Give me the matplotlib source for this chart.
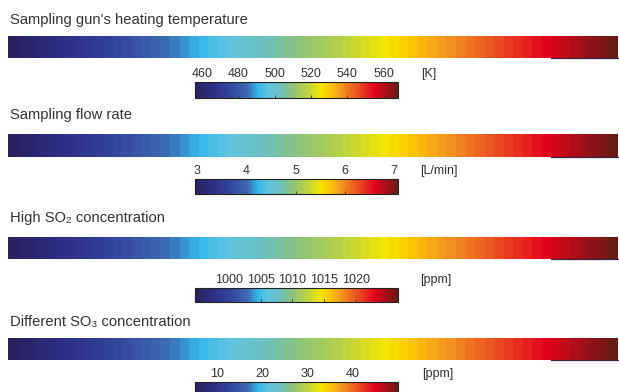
import numpy as np
import matplotlib as mpl
import matplotlib.pyplot as plt
from matplotlib.colors import LinearSegmentedColormap, Normalize

plt.rcParams['font.family'] = ['Liberation Sans', 'DejaVu Sans']

# panel contents
titles = ["Sampling gun's heating temperature", "Sampling flow rate",
          "High SO\u2082 concentration", "Different SO\u2083 concentration"]
units = ['[K]', '[L/min]', '[ppm]', '[ppm]']
ticks = [[460, 480, 500, 520, 540, 560],
         [3, 4, 5, 6, 7],
         [1000, 1005, 1010, 1015, 1020],
         [10, 20, 30, 40]]
limits = [(456, 568), (2.96, 7.08), (994.6, 1026.7), (5, 50)]

# colour scale (position, colour)
cpos = [0.00, 0.08, 0.18, 0.26, 0.31, 0.36, 0.42, 0.48, 0.56, 0.62, 0.66, 0.71, 0.80, 0.89, 1.00]
ccol = ['#29215e', '#2c2d84', '#34479e', '#3d6db4', '#33b8ea', '#60c4e0', '#6cc0bf', '#8dc37a',
        '#c0d53a', '#f4e600', '#fcc900', '#f5a11c', '#ea5120', '#e2021b', '#6a1a14']
cmap = LinearSegmentedColormap.from_list('jetlike', list(zip(cpos, ccol)))

W, H = 619, 392
fig = plt.figure(figsize=(W / 100, H / 100), dpi=100)


def ax_px(x0, y0, x1, y1):
    return fig.add_axes([x0 / W, 1 - y1 / H, (x1 - x0) / W, (y1 - y0) / H])


# pixel layout of each panel: title y, strip top/bottom, bar top/bottom
title_y = [20, 115, 218, 322]
strip_y = [(36, 58), (134, 157), (237, 259), (338, 360)]
bar_y = [(82, 98), (179, 194), (288, 302), (382, 397)]
unit_x = [421, 420, 420, 422]

txt = '#333333'
for i in range(4):
    fig.text(10 / W, 1 - title_y[i] / H, titles[i], fontsize=10.6, color=txt,
             va='center', ha='left')

    # big stripe
    ax = ax_px(8, strip_y[i][0], 618, strip_y[i][1])
    cb = mpl.colorbar.ColorbarBase(ax, cmap=cmap.resampled(64), norm=Normalize(*limits[i]),
                                   orientation='horizontal', ticks=[])
    cb.outline.set_visible(False)
    ax.plot([0.89, 1.0], [0, 0], transform=ax.transAxes, color='#3a2040', lw=0.9, clip_on=False)

    # small colour bar
    bx = ax_px(195, bar_y[i][0], 398, bar_y[i][1])
    cb2 = mpl.colorbar.ColorbarBase(bx, cmap=cmap, norm=Normalize(*limits[i]),
                                    orientation='horizontal', ticks=ticks[i])
    cb2.outline.set_linewidth(0.8)
    cb2.outline.set_edgecolor('#222222')
    bx.tick_params(axis='x', top=False, bottom=True, labeltop=True, labelbottom=False,
                   direction='in', length=2, width=0.6, color='#333333',
                   labelsize=9, labelcolor=txt, pad=1.5)
    ylab = (bar_y[i][0] - 8)
    fig.text(unit_x[i] / W, 1 - ylab / H, units[i], fontsize=9, color=txt,
             va='center', ha='left')

fig.savefig('out.png', dpi=100)
